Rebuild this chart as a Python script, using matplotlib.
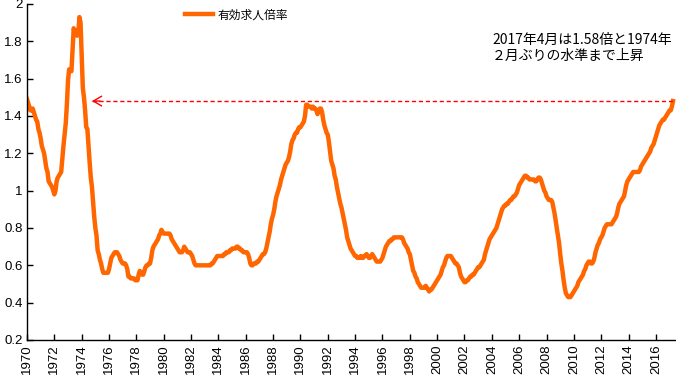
import matplotlib
matplotlib.use("Agg")
import matplotlib.pyplot as plt
from matplotlib.ticker import FuncFormatter
import numpy as np

# monthly jobs-to-applicants ratio, Jan 1970 .. Apr 2017
start_year = 1970
ratio = [
    1.49, 1.47, 1.45, 1.43, 1.43, 1.44, 1.42, 1.40, 1.38, 1.37, 1.33, 1.31,  # 1970
    1.28, 1.24, 1.22, 1.20, 1.16, 1.12, 1.10, 1.05, 1.04, 1.03, 1.02, 1.00,  # 1971
    0.98, 1.00, 1.05, 1.07, 1.08, 1.09, 1.10, 1.17, 1.24, 1.30, 1.36, 1.46,  # 1972
    1.59, 1.65, 1.65, 1.64, 1.76, 1.87, 1.85, 1.86, 1.83, 1.84, 1.93, 1.90,  # 1973
    1.72, 1.55, 1.50, 1.43, 1.34, 1.33, 1.24, 1.15, 1.07, 1.02, 0.94, 0.86,  # 1974
    0.80, 0.76, 0.68, 0.66, 0.63, 0.61, 0.58, 0.56, 0.56, 0.56, 0.56, 0.56,  # 1975
    0.58, 0.61, 0.64, 0.65, 0.66, 0.67, 0.67, 0.67, 0.66, 0.65, 0.63, 0.62,  # 1976
    0.61, 0.61, 0.61, 0.60, 0.58, 0.54, 0.54, 0.53, 0.53, 0.53, 0.53, 0.52,  # 1977
    0.52, 0.52, 0.55, 0.57, 0.56, 0.55, 0.55, 0.57, 0.59, 0.60, 0.60, 0.61,  # 1978
    0.61, 0.64, 0.68, 0.70, 0.71, 0.72, 0.73, 0.74, 0.76, 0.77, 0.79, 0.78,  # 1979
    0.77, 0.77, 0.77, 0.77, 0.77, 0.77, 0.76, 0.74, 0.73, 0.72, 0.71, 0.70,  # 1980
    0.69, 0.68, 0.67, 0.67, 0.67, 0.68, 0.70, 0.69, 0.68, 0.67, 0.67, 0.67,  # 1981
    0.66, 0.65, 0.63, 0.61, 0.60, 0.60, 0.60, 0.60, 0.60, 0.60, 0.60, 0.60,  # 1982
    0.60, 0.60, 0.60, 0.60, 0.60, 0.60, 0.61, 0.61, 0.62, 0.63, 0.64, 0.65,  # 1983
    0.65, 0.65, 0.65, 0.65, 0.65, 0.66, 0.66, 0.67, 0.67, 0.67, 0.68, 0.68,  # 1984
    0.69, 0.69, 0.69, 0.69, 0.70, 0.70, 0.69, 0.69, 0.68, 0.68, 0.67, 0.67,  # 1985
    0.67, 0.67, 0.66, 0.64, 0.61, 0.60, 0.60, 0.61, 0.61, 0.61, 0.62, 0.62,  # 1986
    0.63, 0.64, 0.65, 0.66, 0.66, 0.67, 0.69, 0.72, 0.75, 0.78, 0.82, 0.85,  # 1987
    0.87, 0.90, 0.94, 0.97, 0.99, 1.01, 1.03, 1.06, 1.08, 1.10, 1.12, 1.14,  # 1988
    1.15, 1.16, 1.18, 1.21, 1.25, 1.27, 1.28, 1.30, 1.31, 1.31, 1.33, 1.34,  # 1989
    1.34, 1.35, 1.36, 1.37, 1.40, 1.46, 1.46, 1.45, 1.45, 1.45, 1.44, 1.45,  # 1990
    1.44, 1.44, 1.43, 1.41, 1.43, 1.44, 1.44, 1.42, 1.38, 1.35, 1.33, 1.31,  # 1991
    1.30, 1.26, 1.21, 1.16, 1.14, 1.12, 1.08, 1.06, 1.02, 0.99, 0.96, 0.93,  # 1992
    0.91, 0.88, 0.85, 0.82, 0.79, 0.75, 0.73, 0.71, 0.69, 0.68, 0.67, 0.66,  # 1993
    0.65, 0.65, 0.64, 0.64, 0.64, 0.65, 0.64, 0.64, 0.65, 0.65, 0.66, 0.65,  # 1994
    0.64, 0.64, 0.65, 0.66, 0.65, 0.64, 0.63, 0.62, 0.62, 0.62, 0.62, 0.63,  # 1995
    0.64, 0.66, 0.68, 0.70, 0.71, 0.72, 0.73, 0.73, 0.74, 0.74, 0.75, 0.75,  # 1996
    0.75, 0.75, 0.75, 0.75, 0.75, 0.75, 0.74, 0.72, 0.71, 0.70, 0.69, 0.67,  # 1997
    0.66, 0.63, 0.60, 0.57, 0.56, 0.54, 0.53, 0.51, 0.50, 0.49, 0.48, 0.48,  # 1998
    0.48, 0.48, 0.49, 0.48, 0.47, 0.46, 0.47, 0.47, 0.48, 0.49, 0.50, 0.51,  # 1999
    0.52, 0.53, 0.54, 0.55, 0.57, 0.59, 0.60, 0.62, 0.64, 0.65, 0.65, 0.65,  # 2000
    0.65, 0.64, 0.63, 0.62, 0.61, 0.61, 0.60, 0.59, 0.56, 0.54, 0.53, 0.52,  # 2001
    0.51, 0.51, 0.52, 0.52, 0.53, 0.54, 0.54, 0.55, 0.55, 0.56, 0.57, 0.58,  # 2002
    0.59, 0.59, 0.60, 0.61, 0.62, 0.63, 0.66, 0.68, 0.70, 0.72, 0.74, 0.75,  # 2003
    0.76, 0.77, 0.78, 0.79, 0.80, 0.82, 0.84, 0.86, 0.88, 0.90, 0.91, 0.92,  # 2004
    0.92, 0.93, 0.93, 0.94, 0.95, 0.95, 0.96, 0.97, 0.97, 0.98, 0.99, 1.01,  # 2005
    1.03, 1.04, 1.05, 1.06, 1.07, 1.08, 1.08, 1.07, 1.07, 1.06, 1.06, 1.06,  # 2006
    1.06, 1.06, 1.05, 1.05, 1.06, 1.07, 1.07, 1.06, 1.04, 1.02, 1.00, 0.99,  # 2007
    0.97, 0.96, 0.95, 0.95, 0.95, 0.94, 0.91, 0.88, 0.84, 0.80, 0.76, 0.72,  # 2008
    0.66, 0.61, 0.57, 0.52, 0.48, 0.45, 0.44, 0.43, 0.43, 0.43, 0.44, 0.45,  # 2009
    0.46, 0.47, 0.48, 0.49, 0.51, 0.52, 0.53, 0.54, 0.55, 0.57, 0.58, 0.60,  # 2010
    0.61, 0.62, 0.62, 0.61, 0.61, 0.62, 0.64, 0.67, 0.69, 0.71, 0.72, 0.74,  # 2011
    0.75, 0.76, 0.78, 0.80, 0.81, 0.82, 0.82, 0.82, 0.82, 0.82, 0.83, 0.84,  # 2012
    0.85, 0.86, 0.88, 0.91, 0.93, 0.94, 0.95, 0.96, 0.97, 1.00, 1.03, 1.05,  # 2013
    1.06, 1.07, 1.08, 1.09, 1.10, 1.10, 1.10, 1.10, 1.10, 1.10, 1.11, 1.13,  # 2014
    1.14, 1.15, 1.16, 1.17, 1.18, 1.19, 1.20, 1.21, 1.23, 1.24, 1.25, 1.27,  # 2015
    1.29, 1.31, 1.33, 1.35, 1.36, 1.37, 1.38, 1.38, 1.39, 1.40, 1.41, 1.42,  # 2016
    1.43, 1.43, 1.45, 1.48,                                                  # 2017
]
tick_years = list(range(1970, 2017, 2))
y_ticks = [0.2, 0.4, 0.6, 0.8, 1.0, 1.2, 1.4, 1.6, 1.8, 2.0]

label = "有効求人倍率"
note = "2017年4月は1.58倍と1974年\n２月ぶりの水準まで上昇"
ref_level = 1.48      # dashed arrow level
ref_start = 1974.75   # arrow tip

JP = ["Noto Sans CJK JP", "DejaVu Sans"]
NUM = ["Liberation Sans", "DejaVu Sans"]
plt.rcParams["font.family"] = NUM

x = start_year + np.arange(len(ratio)) / 12.0

fig = plt.figure(figsize=(6.76, 3.78), dpi=100)
ax = fig.add_axes([27 / 676, 1 - 340 / 378, 649 / 676, 336 / 378])

ax.plot(x, ratio, color="#FF6600", lw=3.2, label=label, solid_joinstyle="round")

# dashed reference line with an open arrow head on the left
ax.plot([ref_start, x[-1]], [ref_level, ref_level], color="#FF0000",
        lw=1, linestyle=(0, (3, 2)))
ax.annotate("", xy=(ref_start, ref_level), xytext=(ref_start + 0.6, ref_level),
            arrowprops=dict(arrowstyle="->,head_length=0.6,head_width=0.35",
                            color="#FF0000", lw=1, mutation_scale=10,
                            shrinkA=0, shrinkB=0))

ax.text(492 / 676, 1 - 48 / 378, note, transform=fig.transFigure,
        family=JP, fontsize=10, va="center", ha="left", linespacing=1.25)

ax.set_xlim(1970, 2017.47)
ax.set_ylim(0.2, 2.0)
ax.set_xticks(tick_years)
ax.set_xticklabels([str(t) for t in tick_years], rotation=90)
ax.set_yticks(y_ticks)
ax.yaxis.set_major_formatter(FuncFormatter(lambda v, p: f"{v:g}"))

for s in ["top", "right"]:
    ax.spines[s].set_visible(False)
for s in ["left", "bottom"]:
    ax.spines[s].set_linewidth(1)
    ax.spines[s].set_color("black")
ax.tick_params(direction="in", length=4, width=1, labelsize=9.5, pad=3)

leg = ax.legend(loc="center left", bbox_to_anchor=(185 / 676, 1 - 15 / 378),
                bbox_transform=fig.transFigure, frameon=False, borderpad=0,
                borderaxespad=0, handlelength=2.4, handletextpad=0.35,
                prop={"family": JP, "size": 8.5})

fig.savefig("out.png", dpi=100)
